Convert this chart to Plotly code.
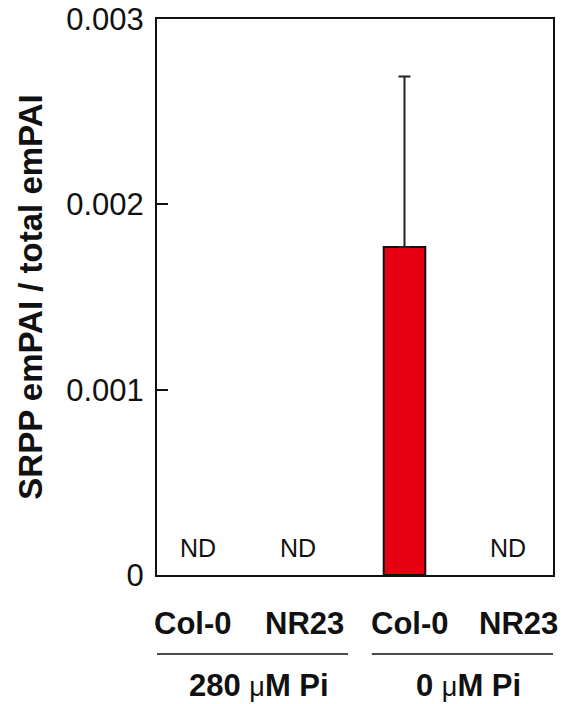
import plotly.graph_objects as go

# ---- data ----
genotypes = ["Col-0", "NR23", "Col-0", "NR23"]
conditions = ["280 \u03bcM Pi", "0 \u03bcM Pi"]
values = [None, None, 0.00177, None]          # None = not detected
err_plus = [0, 0, 0.00092, 0]
nd_flags = [True, True, False, True]
y_ticks = [0, 0.001, 0.002, 0.003]
y_tick_text = ["0", "0.001", "0.002", "0.003"]

xpos = list(range(len(genotypes)))

fig = go.Figure()
fig.add_trace(go.Bar(
    x=xpos, y=values, width=0.42,
    marker=dict(color="#E60012", line=dict(color="#111111", width=2)),
    error_y=dict(type="data", symmetric=False, array=err_plus,
                 arrayminus=[0] * len(err_plus),
                 color="#222222", thickness=2, width=6),
    showlegend=False, hoverinfo="skip",
))

font_reg = "Liberation Sans, Arial, sans-serif"


def cond_html(label):
    # render the Greek mu in a lighter, smaller face as in the original
    parts = label.split("\u03bc")
    if len(parts) == 2:
        return ("<b>%s</b><span style='font-size:27px;font-weight:normal'>\u03bc</span><b>%s</b>"
                % (parts[0], parts[1]))
    return "<b>%s</b>" % label


ann = []
# ND labels
nd_shift = [-9, -8, 0, 4]
for i, f in enumerate(nd_flags):
    if f:
        ann.append(dict(x=xpos[i], y=0.049, xref="x", yref="paper", text="ND",
                        showarrow=False, xshift=nd_shift[i], yanchor="middle",
                        font=dict(family=font_reg, size=25, color="#111")))
# genotype labels
g_shift = [-13.5, -1.5, 5.5, 14.5]
for i, g in enumerate(genotypes):
    ann.append(dict(x=xpos[i], y=-0.088, xref="x", yref="paper",
                    text="<b>%s</b>" % g, showarrow=False, xshift=g_shift[i],
                    yanchor="middle",
                    font=dict(family=font_reg, size=31, color="#111")))
# condition labels and lines
cond_centers = [0.53, 2.65]
line_spans = [(-0.59, 1.43), (1.67, 3.62)]
shapes = []
for c, cx, (a, b) in zip(conditions, cond_centers, line_spans):
    ann.append(dict(x=cx, y=-0.198, xref="x", yref="paper",
                    text=cond_html(c), showarrow=False, yanchor="middle",
                    font=dict(family=font_reg, size=31, color="#111")))
    shapes.append(dict(type="line", xref="x", yref="paper", x0=a, x1=b,
                       y0=-0.142, y1=-0.142,
                       line=dict(color="#111", width=1.5)))

fig.update_layout(
    width=563, height=704,
    margin=dict(l=157, r=10, t=19, b=129),
    paper_bgcolor="white", plot_bgcolor="white",
    annotations=ann, shapes=shapes,
    xaxis=dict(range=[-0.5, 3.5], showticklabels=False, ticks="",
               showgrid=False, zeroline=False, showline=True, automargin=False,
               linecolor="#111", linewidth=2, mirror=True),
    yaxis=dict(range=[0, 0.003], tickvals=y_ticks, ticktext=y_tick_text,
               ticks="inside", ticklen=11, tickwidth=1.5, tickcolor="#111",
               showgrid=False, zeroline=False, showline=True, automargin=False,
               linecolor="#111", linewidth=2, mirror=True,
               tickfont=dict(family=font_reg, size=31, color="#111"),
               ticklabelstandoff=5,
               title=dict(text="<b>SRPP emPAI / total emPAI</b>",
                          font=dict(family=font_reg, size=33, color="#111"),
                          standoff=14)),
)

fig.write_html(
    "out.html",
    config={"displayModeBar": False},
    post_script="document.body.style.margin='0';document.body.style.overflow='hidden';",
)
